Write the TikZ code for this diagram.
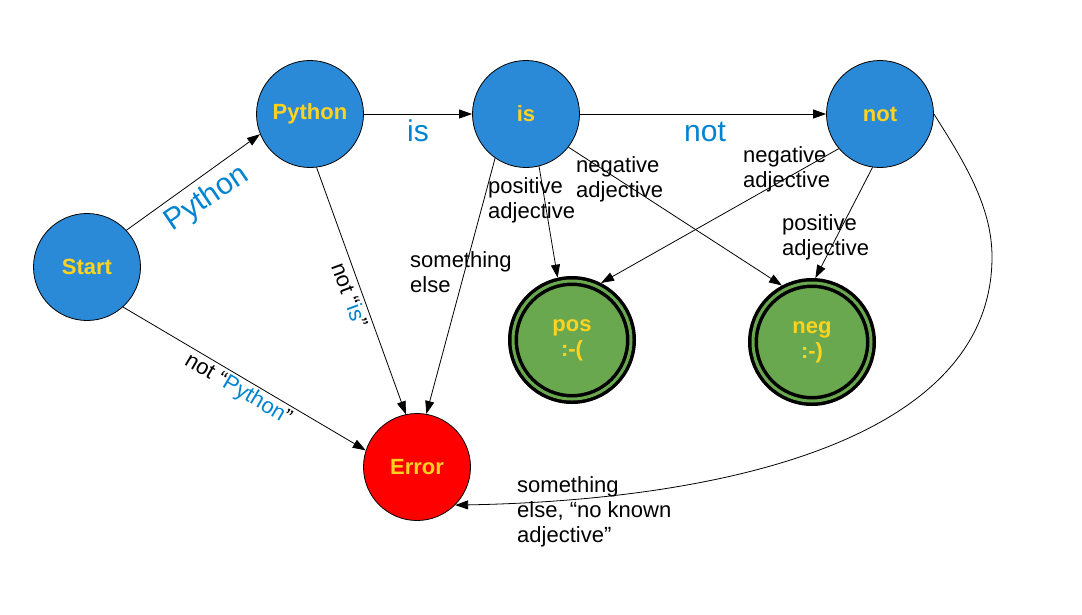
\documentclass[tikz,border=0pt]{standalone}
\usepackage{fontspec}
\setmainfont{Liberation Sans}
\usetikzlibrary{arrows.meta}
\definecolor{nodeblue}{RGB}{42,138,216}
\definecolor{txtyellow}{RGB}{255,211,32}
\definecolor{accgreen}{RGB}{106,168,79}
\definecolor{lblue}{RGB}{0,132,209}
\begin{document}
\begin{tikzpicture}[x=1pt,y=-1pt,
  state/.style={circle, draw=black, line width=0.8pt, minimum size=107pt, inner sep=0pt,
    fill=nodeblue, font=\fontsize{22}{25}\selectfont\bfseries, text=txtyellow, align=center},
  final/.style={state, fill=accgreen, line width=3.5pt, double=accgreen, double distance=3pt,
    minimum size=118pt, outer sep=5pt},
  errstate/.style={state, fill=red},
  edge/.style={draw, line width=0.8pt, -{Triangle[length=13pt,width=9pt]}},
  lbl/.style={font=\fontsize{22}{25}\selectfont, align=left, inner sep=0pt, anchor=base west},
  biglbl/.style={font=\fontsize{30}{34}\selectfont, text=lblue, inner sep=0pt},
]
\useasboundingbox[fill=white] (0,0) rectangle (1082,614);

\node[state] (start) at (87,267) {Start};
\node[state] (py) at (310,114) {Python};
\node[state] (is) at (526,114) {is};
\node[state] (not) at (880,114) {not};
\node[errstate] (err) at (417,467) {Error};
\node[final] (pos) at (572,340) {pos\\:-(};
\node[final] (neg) at (812,342) {neg\\:-)};
\coordinate (c1) at (992,257);

\draw[edge] (start.43) -- (py.202);
\draw[edge] (py) -- (is);
\draw[edge] (is) -- (not);
\draw[edge] (start.-48) -- (err.162);
\draw[edge] (py.-83) -- (err.102);
\draw[edge] (is.-125) -- (err.80);
\draw[edge] (is.-76) -- (pos.103);
\draw[edge] (is.-38) -- (neg.118);
\draw[edge] (not.220) -- (pos.63);
\draw[edge] (not.262) -- (neg.87);
\draw[edge] (not.east) .. controls (965,163) and (992,207) .. (c1)
  .. controls (992,437) and (730,500) .. (err.-45);

\node[biglbl, rotate=34] (lpy) at (207,199) {Python};
\node[biglbl] (lis) at (418,131) {is};
\node[biglbl] (lnot) at (705,132) {not};
\node[lbl, anchor=center, rotate=-30.6] (lnpy) at (238,390) {not “\textcolor{lblue}{Python}”};
\node[lbl, anchor=center, rotate=-69.6] (lnis) at (350,295) {not “\textcolor{lblue}{is}”};
\node[lbl] (lse) at (410,292) {something\\else};
\node[lbl] (lpa1) at (488,218) {positive\\adjective};
\node[lbl] (lna1) at (576,197) {negative\\adjective};
\node[lbl] (lna2) at (743,187) {negative\\adjective};
\node[lbl] (lpa2) at (782,255) {positive\\adjective};
\node[lbl] (lnk) at (517,542) {something\\else, “no known\\adjective”};
\end{tikzpicture}
\end{document}
